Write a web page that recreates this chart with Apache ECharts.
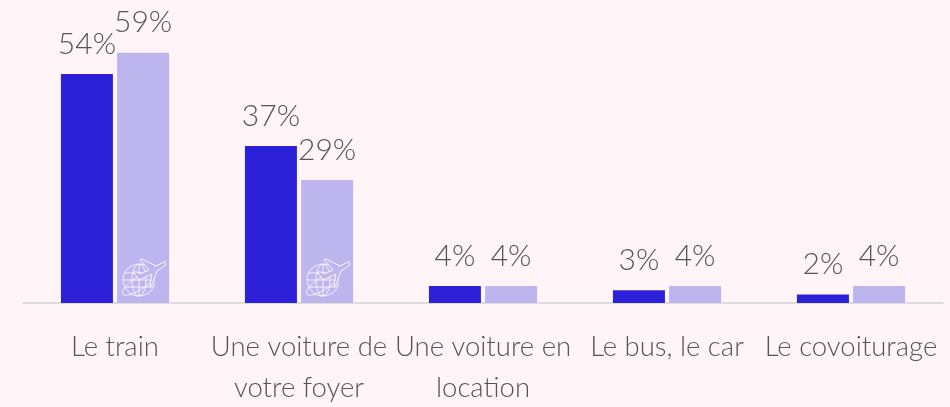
<!DOCTYPE html>
<html><head><meta charset="utf-8">
<style>html,body{margin:0;padding:0;background:#fff5f8}#c{width:950px;height:407px}</style>
<script src="https://cdn.jsdelivr.net/npm/echarts@6/dist/echarts.min.js"></script>
</head><body><div id="c"></div>
<script>
const categories = ['Le train','Une voiture de\nvotre foyer','Une voiture en\nlocation','Le bus, le car','Le covoiturage'];
const seriesA = [54,37,4,3,2];
const seriesB = [59,29,4,4,4];
const iconCategories = [0,1];
const FONT = 'Lato';
const label = {show:true,position:'top',distance:15,formatter:'{c}%',color:'#555',fontFamily:FONT,fontWeight:300,fontSize:30};
const chart = echarts.init(document.getElementById('c'),null,{renderer:'canvas'});
function icon(params,api){
  const p = api.coord([api.value(0),0]);
  const x = p[0]+28, y = p[1];
  const cx = x-4, cy = y-23, r=16;
  const st = {stroke:'#fff5f8',fill:'none',lineWidth:1,opacity:0.9};
  const P = (a,b)=>`${cx+a} ${cy+b}`;
  const plane = `M${P(26,-18.5)} L${P(17,-14)} L${P(3,-21)} L${P(1,-20)} L${P(10,-10)} L${P(1,-6)} L${P(-3,-8.5)} L${P(-5,-7.5)} L${P(0,0)} L${P(13,-6)} L${P(11,6)} L${P(13,5)} L${P(18,-9)} L${P(27,-15)} Z`;
  return {type:'group',children:[
    {type:'arc',shape:{cx,cy,r,startAngle:Math.PI*0.05,endAngle:Math.PI*1.75,clockwise:true},style:st},
    {type:'ellipse',shape:{cx,cy,rx:7,ry:r},style:st},
    {type:'line',shape:{x1:cx,y1:cy-r,x2:cx,y2:cy+r},style:st},
    {type:'line',shape:{x1:cx-r+2,y1:cy-7,x2:cx+3,y2:cy-7},style:st},
    {type:'line',shape:{x1:cx-r+2,y1:cy+7,x2:cx+r-2,y2:cy+7},style:st},
    {type:'line',shape:{x1:cx-r,y1:cy,x2:cx+r,y2:cy},style:st},
    {type:'path',shape:{pathData:`M${P(-1,-3)} C${P(-16,5)} ${P(-19,14)} ${P(-15,15)} C${P(-9,17)} ${P(6,8)} ${P(13,1)}`},style:st},
    {type:'path',shape:{pathData:plane},style:{stroke:'#fff5f8',fill:'#bdb6ee',lineWidth:1}}
  ]};
}
chart.setOption({
  animation:false,
  backgroundColor:'#fff5f8',
  grid:{left:23,width:920,top:6,bottom:104,containLabel:false,outerBoundsMode:'none'},
  xAxis:{type:'category',data:categories,offset:1,
    axisLine:{lineStyle:{color:'#dcdcdc',width:2}},axisTick:{show:false},
    axisLabel:{interval:0,color:'#555',fontFamily:FONT,fontWeight:300,fontSize:27.5,lineHeight:41,margin:23}},
  yAxis:{type:'value',min:0,max:70,show:false},
  series:[
    {type:'bar',data:seriesA,barWidth:52,barGap:'8%',itemStyle:{color:'#2c20d9'},label},
    {type:'bar',data:seriesB,barWidth:52,barGap:'8%',itemStyle:{color:'#bdb6ee'},label},
    {type:'custom',data:iconCategories.map(c=>[c]),encode:{x:0},renderItem:icon,silent:true,z:5}
  ]
});
</script></body></html>
